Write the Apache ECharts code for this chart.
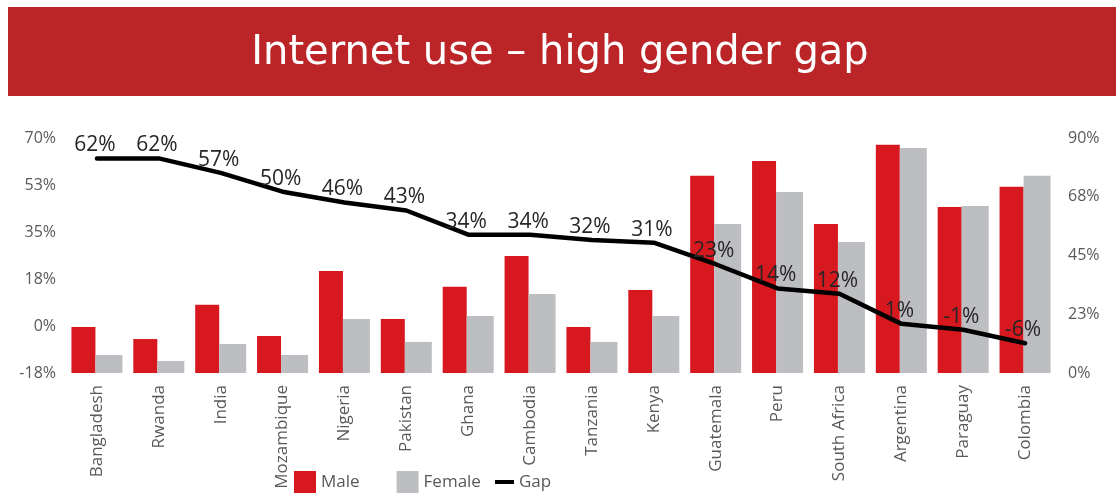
<!DOCTYPE html>
<html>
<head>
<meta charset="utf-8">
<script src="https://cdn.jsdelivr.net/npm/echarts@6/dist/echarts.min.js"></script>
<style>
html,body{margin:0;padding:0;background:#fff;}
#chart{width:1120px;height:495px;}
</style>
</head>
<body>
<div id="chart"></div>
<script>
var titleText = 'Internet use \u2013 high gender gap';
var countries = ['Bangladesh','Rwanda','India','Mozambique','Nigeria','Pakistan','Ghana','Cambodia','Tanzania','Kenya','Guatemala','Peru','South Africa','Argentina','Paraguay','Colombia'];
var male   = [17.6, 13.0, 26.1, 14.2, 39.1, 20.7, 33.0, 44.8, 17.6, 31.8, 75.5, 81.2, 57.1, 87.4, 63.6, 71.3];
var female = [6.9, 4.6, 11.1, 6.9, 20.7, 11.9, 21.8, 30.3, 11.9, 21.8, 57.1, 69.3, 50.2, 86.2, 64.0, 75.5];
var gap    = [62.4, 62.4, 57, 50, 46, 43, 34, 34, 32, 31, 23, 14, 12, 0.8, -1.4, -6.4];
var leftTicks  = { min: -17.5, max: 70, interval: 17.5 };
var rightTicks = { min: 0, max: 90, interval: 22.5 };

function pct(v) {
  var r = Math.round(Math.abs(v));
  return (v < 0 && r !== 0 ? '-' : '') + r + '%';
}

var chart = echarts.init(document.getElementById('chart'), null, {renderer: 'canvas'});
var axisFont = {color: '#595959', fontSize: 16, fontFamily: 'Open Sans'};

chart.setOption({
  animation: false,
  backgroundColor: '#ffffff',
  graphic: [
    {type: 'rect', left: 8, top: 7, shape: {width: 1108, height: 89}, style: {fill: '#BB2528'}, z: 0},
    {type: 'text', left: 'center', top: 34, style: {text: titleText, fill: '#ffffff', fontSize: 40, fontFamily: 'DejaVu Sans'}, z: 1}
  ],
  grid: {left: 66, right: 64, top: 138, bottom: 122, containLabel: false},
  legend: [
    {
      data: [{name: 'Male', icon: 'rect'}, {name: 'Female', icon: 'rect'}],
      left: 294, top: 471, itemWidth: 22, itemHeight: 22, itemGap: 37, padding: 0,
      textStyle: {color: '#595959', fontSize: 17, fontFamily: 'Open Sans'}
    },
    {
      data: [{name: 'Gap', icon: 'rect'}],
      left: 495, top: 471, itemWidth: 19, itemHeight: 4, padding: 0,
      textStyle: {color: '#595959', fontSize: 17, fontFamily: 'Open Sans', lineHeight: 22}
    }
  ],
  xAxis: {
    type: 'category',
    data: countries,
    axisLine: {show: false},
    axisTick: {show: false},
    axisLabel: Object.assign({rotate: 90, margin: 12, interval: 0}, axisFont, {fontSize: 17})
  },
  yAxis: [
    {
      type: 'value', position: 'left',
      min: leftTicks.min, max: leftTicks.max, interval: leftTicks.interval,
      axisLine: {show: false}, axisTick: {show: false}, splitLine: {show: false},
      axisLabel: Object.assign({margin: 10, formatter: pct}, axisFont)
    },
    {
      type: 'value', position: 'right',
      min: rightTicks.min, max: rightTicks.max, interval: rightTicks.interval,
      axisLine: {show: false}, axisTick: {show: false}, splitLine: {show: false},
      axisLabel: Object.assign({margin: 12, formatter: pct}, axisFont)
    }
  ],
  series: [
    {
      name: 'Male', type: 'bar', yAxisIndex: 1, data: male,
      barWidth: 24, barGap: '0%',
      itemStyle: {color: '#D7181F'}
    },
    {
      name: 'Female', type: 'bar', yAxisIndex: 1, data: female,
      barWidth: 27, barGap: '0%',
      itemStyle: {color: '#BDBEC2'}
    },
    {
      name: 'Gap', type: 'line', yAxisIndex: 0, data: gap,
      showSymbol: true, symbol: 'circle', symbolSize: 1, z: 5,
      lineStyle: {color: '#000000', width: 4.5, join: 'round', cap: 'round'},
      itemStyle: {color: '#000000'},
      label: {
        show: true, position: 'top', distance: 2, offset: [-2, 0],
        color: '#262626', fontSize: 21, fontFamily: 'Open Sans',
        formatter: function (p) { return pct(p.value); }
      }
    }
  ]
});
</script>
</body>
</html>
